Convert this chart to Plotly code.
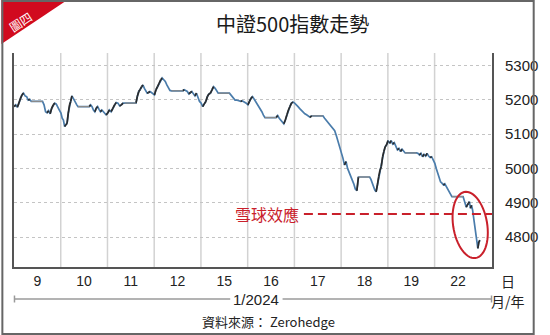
import numpy as np
import plotly.graph_objects as go

# ---------------- data ----------------
day_labels = ["9", "10", "11", "12", "15", "16", "17", "18", "19", "22"]
y_ticks = [4800, 4900, 5000, 5100, 5200, 5300]
snowball_level = 4867

d9_am = [5180, 5185, 5178, 5190, 5204, 5214, 5219, 5211, 5209, 5199, 5201, 5195]
d9_pm = [5195, 5185, 5165, 5162, 5168, 5159, 5175, 5185, 5190, 5187, 5180, 5170]
d10_am = [5161, 5146, 5141, 5122, 5127, 5131, 5161, 5185, 5195, 5211, 5204, 5195, 5190, 5185, 5180]
d10_pm = [5180, 5185, 5180, 5170, 5165, 5175, 5180, 5172, 5165, 5170, 5165, 5161, 5156]
d11_am = [5161, 5170, 5165, 5175, 5185, 5192, 5190, 5182, 5185, 5190, 5190]
d11_pm = [5190, 5210, 5224, 5230, 5238, 5243, 5233, 5224, 5219, 5221, 5224, 5221, 5217]
d12_am = [5214, 5229, 5238, 5248, 5258, 5263, 5258, 5253, 5243, 5233, 5227, 5226]
d12_pm = [5226, 5229, 5227, 5224, 5217, 5221, 5224, 5217, 5211, 5219, 5209, 5195]
d15_am = [5190, 5180, 5188, 5195, 5209, 5217, 5219, 5229, 5238, 5233, 5224, 5219]
d15_pm = [5219, 5214, 5209, 5204, 5199, 5199, 5197, 5195, 5195, 5197, 5195, 5193, 5190]
d16_am = [5185, 5195, 5204, 5209, 5202, 5195, 5190, 5182, 5175, 5165, 5155, 5148]
d16_pm = [5148, 5154, 5146, 5141, 5136, 5130, 5141, 5156, 5170, 5180, 5190, 5193]
d17_am = [5190, 5186, 5180, 5174, 5168, 5163, 5159, 5156, 5152, 5149, 5153]
d17_pm = [5153, 5146, 5140, 5134, 5129, 5124, 5118, 5110, 5095, 5080, 5062]
d18_am = [5050, 5030, 5010, 5020, 5000, 4990, 4975, 4965, 4955, 4940, 4935, 4975]
d18_pm = [4975, 4968, 4956, 4947, 4937, 4932, 4952, 4976, 4995, 5005, 5034, 5049, 5063, 5068]
d19_am = [5081, 5073, 5081, 5071, 5075, 5063, 5054, 5058, 5049, 5056, 5049, 5045]
d19_pm = [5045, 5044, 5039, 5044, 5034, 5041, 5036, 5044, 5036, 5032, 5034, 5026]
d22_am = [5015, 5000, 4986, 4971, 4961, 4957, 4952, 4955, 4947, 4942, 4932, 4922, 4918]
d22_pm = [4918, 4908, 4898, 4887, 4893, 4898, 4903, 4884, 4893, 4879, 4854, 4830, 4806, 4782, 4767, 4786, 4791]

mornings = [d9_am, d10_am, d11_am, d12_am, d15_am, d16_am, d17_am, d18_am, d19_am, d22_am]
afternoons = [d9_pm, d10_pm, d11_pm, d12_pm, d15_pm, d16_pm, d17_pm, d18_pm, d19_pm, d22_pm]

# ---------------- build series ----------------
AM_SPAN = (0.005, 0.37)
PM_SPAN = (0.61, 0.97)
xs, ys, sess = [], [], []
for d, (am, pm) in enumerate(zip(mornings, afternoons)):
    for x, v in zip(np.linspace(d + AM_SPAN[0], d + AM_SPAN[1], len(am)), am):
        xs.append(x); ys.append(v); sess.append((d, 0))
    for x, v in zip(np.linspace(d + PM_SPAN[0], d + PM_SPAN[1], len(pm)), pm):
        xs.append(x); ys.append(v); sess.append((d, 1))

up_x, up_y, lunch_x, lunch_y = [], [], [], []
for i in range(len(xs) - 1):
    if sess[i][0] == sess[i + 1][0] and sess[i][1] == 0 and sess[i + 1][1] == 1:
        lunch_x += [xs[i], xs[i + 1], None]
        lunch_y += [ys[i], ys[i], None]
    elif ys[i + 1] > ys[i]:
        up_x += [xs[i], xs[i + 1], None]
        up_y += [ys[i], ys[i + 1], None]

BLUE = "#4a7cab"
DARK = "#2a2a2a"
RED = "#c9202b"

fig = go.Figure()
fig.add_trace(go.Scatter(x=xs, y=ys, mode="lines", line=dict(color=BLUE, width=1.7),
                         hoverinfo="skip", connectgaps=False))
fig.add_trace(go.Scatter(x=up_x, y=up_y, mode="lines", line=dict(color=DARK, width=1.7),
                         hoverinfo="skip"))
fig.add_trace(go.Scatter(x=lunch_x, y=lunch_y, mode="lines", line=dict(color="#8a8a8a", width=1.2),
                         hoverinfo="skip"))

# ---------------- layout ----------------
W, H = 550, 335
ML, MR, MT, MB = 13, 44, 53, 68
PW, PH = W - ML - MR, H - MT - MB
DAY_PX = 48.2


def px(X):
    return (X - ML) / PW


def py(Y):
    return (H - MB - Y) / PH


NUM_FONT = "Liberation Sans Narrow, Arial Narrow, Liberation Sans, Arial"
CJK_FONT = "Noto Sans CJK TC, Noto Sans CJK SC, sans-serif"

fig.update_layout(
    width=W, height=H,
    margin=dict(l=ML, r=MR, t=MT, b=MB, pad=0),
    paper_bgcolor="white", plot_bgcolor="white",
    showlegend=False,
    xaxis=dict(
        range=[0, PW / DAY_PX],
        tickvals=[i + 0.5 for i in range(len(day_labels))],
        ticktext=day_labels,
        showgrid=False, zeroline=False,
        showline=True, linecolor="#555", linewidth=2,
        ticks="", 
        tickfont=dict(family=NUM_FONT, size=14, color="#222"),
        fixedrange=True,
    ),
    yaxis=dict(
        range=[4713, 5336], side="right",
        tickvals=y_ticks, ticktext=[str(t) for t in y_ticks],
        showgrid=True, gridcolor="#c4c4c4", gridwidth=1, griddash="dot",
        zeroline=False,
        showline=True, mirror=True, linecolor="#555", linewidth=2,
        ticks="outside", ticklen=8, tickcolor="rgba(0,0,0,0)",
        tickfont=dict(family=NUM_FONT, size=15, color="#222"),
        fixedrange=True,
    ),
)

shapes = []
# vertical day separators
for i in range(1, len(day_labels)):
    shapes.append(dict(type="line", xref="x", yref="paper", x0=i, x1=i, y0=0, y1=1,
                       line=dict(color="#d2d2d2", width=1.5), layer="below"))

# red dashed "snowball" level
shapes.append(dict(type="line", xref="paper", yref="y", x0=px(312), x1=1, y0=snowball_level,
                   y1=snowball_level, line=dict(color=RED, width=2, dash="9px,5px")))

# ellipse around the drop
t = np.linspace(0, 2 * np.pi, 60)
cx, cy, a, b, ang = 483.5, 225.0, 17.5, 33.5, np.deg2rad(-10)
ex = cx + a * np.cos(t) * np.cos(ang) - b * np.sin(t) * np.sin(ang)
ey = cy + a * np.cos(t) * np.sin(ang) + b * np.sin(t) * np.cos(ang)
path = "M " + " L ".join(f"{px(X):.5f},{py(Y):.5f}" for X, Y in zip(ex, ey)) + " Z"
shapes.append(dict(type="path", xref="paper", yref="paper", path=path,
                   line=dict(color=RED, width=2)))

# month/year bracket line
LINE_Y = 299
for x0, x1 in [(ML, 236), (290, ML + PW)]:
    shapes.append(dict(type="line", xref="paper", yref="paper", x0=px(x0), x1=px(x1),
                       y0=py(LINE_Y), y1=py(LINE_Y), line=dict(color="#9a9a9a", width=1.5)))
for xe in [ML + 0.5, ML + PW - 0.5]:
    shapes.append(dict(type="line", xref="paper", yref="paper", x0=px(xe), x1=px(xe),
                       y0=py(LINE_Y - 3.5), y1=py(LINE_Y + 3.5), line=dict(color="#9a9a9a", width=1.5)))

# red corner tag
shapes.append(dict(type="path", xref="paper", yref="paper",
                   path=f"M {px(0)},{py(0)} L {px(68)},{py(0)} L {px(0)},{py(44)} Z",
                   fillcolor="#d10a1e", line=dict(width=0)))

# outer frame
shapes.append(dict(type="rect", xref="paper", yref="paper", x0=px(1), x1=px(W - 1),
                   y0=py(1), y1=py(H - 1), line=dict(color="#666", width=2)))

fig.update_layout(shapes=shapes)

annotations = [
    dict(text="中證500指數走勢", x=px(300), y=py(23), xref="paper", yref="paper",
         showarrow=False, xanchor="center", yanchor="middle",
         font=dict(family=CJK_FONT, size=20, color="#1a1a1a")),
    dict(text="圖四", x=px(19), y=py(21), xref="paper", yref="paper", showarrow=False,
         xanchor="center", yanchor="middle", textangle=-33,
         font=dict(family=CJK_FONT, size=12, color="white")),
    dict(text="雪球效應", x=px(309), y=snowball_level, xref="paper", yref="y",
         showarrow=False, xanchor="right", yanchor="middle",
         font=dict(family=CJK_FONT, size=16, color=RED)),
    dict(text="日", x=px(523), y=py(281), xref="paper", yref="paper", showarrow=False,
         xanchor="center", yanchor="middle", font=dict(family=CJK_FONT, size=14, color="#222")),
    dict(text="1/2024", x=px(263), y=py(299.5), xref="paper", yref="paper", showarrow=False,
         xanchor="center", yanchor="middle", font=dict(family=NUM_FONT, size=15, color="#222")),
    dict(text="月/年", x=px(523), y=py(300.5), xref="paper", yref="paper", showarrow=False,
         xanchor="center", yanchor="middle", font=dict(family=CJK_FONT, size=14, color="#222")),
    dict(text="資料來源： Zerohedge", x=px(275), y=py(321.5), xref="paper", yref="paper",
         showarrow=False, xanchor="center", yanchor="middle",
         font=dict(family=CJK_FONT, size=13, color="#222")),
]
fig.update_layout(annotations=annotations)

fig.write_html("out.html")
